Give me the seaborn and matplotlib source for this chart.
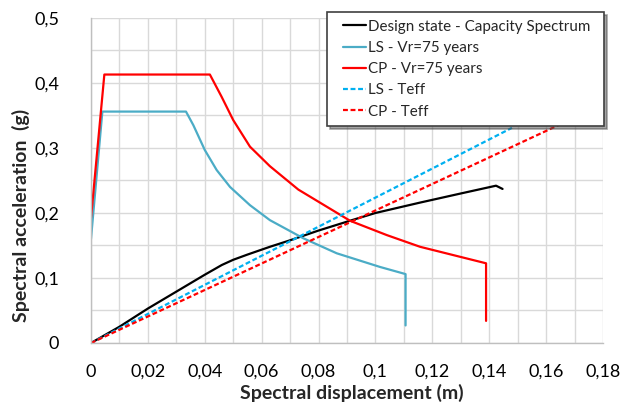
import numpy as np
import pandas as pd
import matplotlib
matplotlib.use("Agg")
import matplotlib.pyplot as plt
from matplotlib.lines import Line2D
from matplotlib.legend_handler import HandlerLine2D
from matplotlib.ticker import MultipleLocator, FuncFormatter
import seaborn as sns

# Capacity spectrum of the structure in its design state
cap_sd = [0.0, 0.01, 0.02, 0.03, 0.04, 0.046, 0.05, 0.055, 0.0629, 0.07,
          0.08, 0.091, 0.10, 0.1157, 0.13, 0.1424, 0.1447]
cap_sa = [0.0, 0.025, 0.053, 0.079, 0.105, 0.120, 0.128, 0.136, 0.148, 0.158,
          0.173, 0.188, 0.200, 0.216, 0.230, 0.242, 0.237]

# Demand spectrum, Life Safety limit state (Vr = 75 years)
ls_sd = [0.0, 0.004, 0.0334, 0.036, 0.040, 0.0442, 0.0489, 0.0559, 0.0629,
         0.0747, 0.0864, 0.1016, 0.1106, 0.1106]
ls_sa = [0.160, 0.356, 0.356, 0.335, 0.297, 0.266, 0.240, 0.212, 0.189,
         0.161, 0.138, 0.117, 0.106, 0.027]

# Demand spectrum, Collapse Prevention limit state (Vr = 75 years)
cp_sd = [0.0, 0.0047, 0.0418, 0.0459, 0.050, 0.0559, 0.0629, 0.0729, 0.0911,
         0.104, 0.1157, 0.1389, 0.1389]
cp_sa = [0.192, 0.413, 0.413, 0.379, 0.343, 0.302, 0.272, 0.236, 0.188,
         0.166, 0.148, 0.1226, 0.034]

# Effective period lines
ls_teff_sd = [0.0, 0.148]
ls_teff_sa = [0.0, 0.331]
cp_teff_sd = [0.0, 0.18]
cp_teff_sa = [0.0, 0.367]

x_ticks = [0, 0.02, 0.04, 0.06, 0.08, 0.10, 0.12, 0.14, 0.16, 0.18]
y_ticks = [0, 0.1, 0.2, 0.3, 0.4, 0.5]

series = [
    ("Design state - Capacity Spectrum", cap_sd, cap_sa, "#000000", "-"),
    ("LS - Vr=75 years", ls_sd, ls_sa, "#4BACC6", "-"),
    ("CP - Vr=75 years", cp_sd, cp_sa, "#FF0000", "-"),
    ("LS - Teff", ls_teff_sd, ls_teff_sa, "#00B0F0", "--"),
    ("CP - Teff", cp_teff_sd, cp_teff_sa, "#FF0000", "--"),
]

sns.set_theme(style="white")
plt.rcParams["font.family"] = ["Lato", "DejaVu Sans"]

fig = plt.figure(figsize=(6.24, 4.05), dpi=100)
ax = fig.add_axes([0.1458, 0.1531, 0.8205, 0.8025])

for name, sd, sa, color, ls in series:
    df = pd.DataFrame({"Sd": sd, "Sa": sa})
    sns.lineplot(data=df, x="Sd", y="Sa", sort=False, estimator=None,
                 color=color, linewidth=1.6, label=name, ax=ax)
    if ls == "--":
        ax.lines[-1].set_linestyle((0, (2.2, 1.2)))

ax.set_xlim(0, 0.18)
ax.set_ylim(0, 0.5)
ax.set_xticks(x_ticks)
ax.set_yticks(y_ticks)
ax.xaxis.set_minor_locator(MultipleLocator(0.01))
ax.yaxis.set_minor_locator(MultipleLocator(0.05))


def comma_fmt(v, pos):
    s = f"{v:.2f}".rstrip("0").rstrip(".")
    return s.replace(".", ",")


ax.xaxis.set_major_formatter(FuncFormatter(comma_fmt))
ax.yaxis.set_major_formatter(FuncFormatter(comma_fmt))

ax.grid(True, which="both", color="#D9D9D9", linewidth=1.0)
ax.set_axisbelow(True)
for side in ("top", "right"):
    ax.spines[side].set_visible(False)
for side in ("left", "bottom"):
    ax.spines[side].set_color("#BFBFBF")
    ax.spines[side].set_linewidth(1.0)

ax.tick_params(axis="both", which="major", direction="out", length=5,
               width=1.0, color="#BFBFBF", labelsize=13, labelcolor="#000000")
ax.tick_params(axis="x", which="major", pad=10)
ax.tick_params(axis="y", which="major", pad=18)
ax.tick_params(which="minor", length=0)

ax.set_xlabel("Spectral displacement (m)", fontsize=14, fontweight="bold")
ax.set_ylabel("Spectral acceleration  (g)", fontsize=14, fontweight="bold")
ax.xaxis.set_label_coords(0.51, -0.126)
ax.yaxis.set_label_coords(-0.12, 0.394)

# Legend box spanning a fixed area, drawn over the effective-period lines
leg = ax.legend(loc="upper left",
                bbox_to_anchor=(327 / 624, 1 - 122 / 405, 277 / 624, 110 / 405),
                bbox_transform=fig.transFigure, mode="expand",
                fontsize=10.9, frameon=True, fancybox=False, shadow=True,
                handlelength=2.1, handletextpad=0.12, borderpad=0.5,
                labelspacing=0.48, borderaxespad=0,
                handler_map={Line2D: HandlerLine2D(xpad=0.56)})
leg.get_frame().set_edgecolor("#404040")
leg.get_frame().set_linewidth(1.2)
leg.get_frame().set_alpha(1.0)
leg.set_zorder(10)

fig.savefig("out.png", dpi=100)
